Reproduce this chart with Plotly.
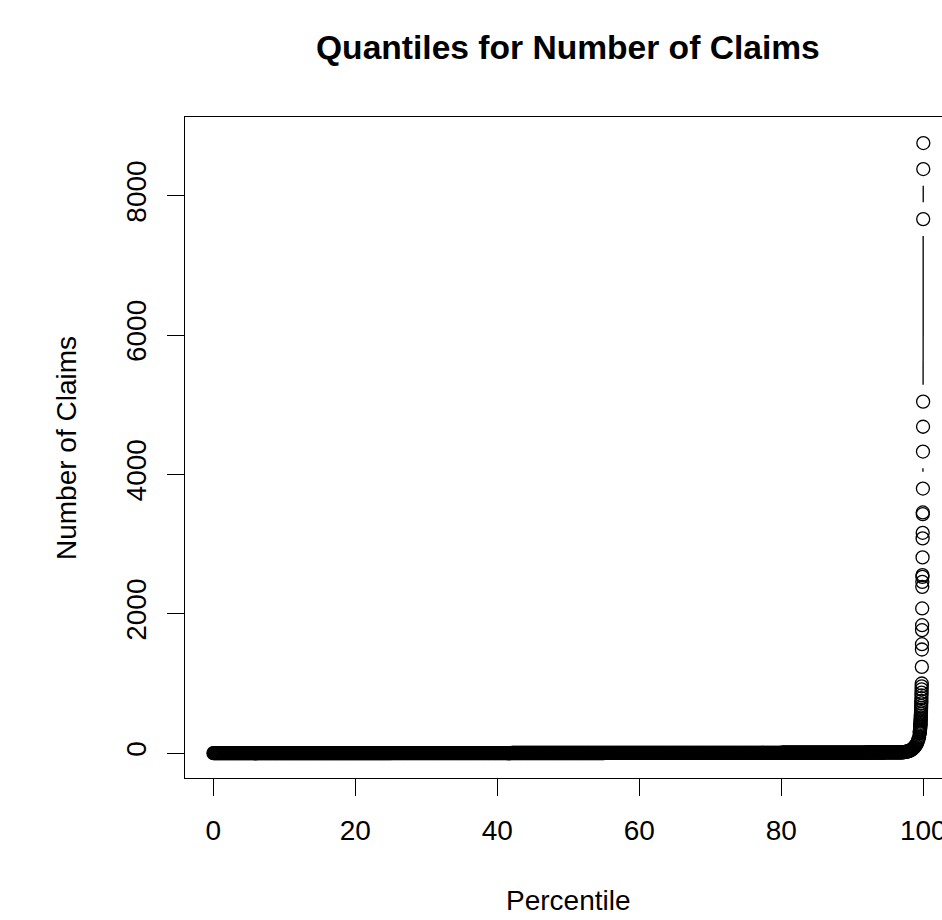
import numpy as np
import plotly.graph_objects as go

# ---------------- data ----------------
# bulk of the distribution: percentile grid 0.0 .. 96.9 (step 0.1), values given as runs
bulk_run_end = [25.0, 42.0, 55.0, 65.0, 73.0, 80.0, 85.0, 89.0, 92.0, 94.5, 96.9]
bulk_run_value = [1, 2, 3, 4, 5, 6, 7, 8, 9, 10, 11]

# upper tail: percentiles 97.0 .. 99.4 (step 0.1)
mid_pct = [97.0, 97.1, 97.2, 97.3, 97.4, 97.5, 97.6, 97.7, 97.8, 97.9,
           98.0, 98.1, 98.2, 98.3, 98.4, 98.5, 98.6, 98.7, 98.8, 98.9,
           99.0, 99.1, 99.2, 99.3, 99.4]
mid_val = [12, 13, 14, 15, 17, 19, 21, 23, 26, 29,
           33, 37, 42, 48, 55, 63, 72, 83, 95, 108,
           122, 140, 165, 195, 230]

# extreme tail: percentiles 99.50 .. 100.00 (step 0.01)
tail_pct = [99.50, 99.51, 99.52, 99.53, 99.54, 99.55, 99.56, 99.57, 99.58, 99.59,
            99.60, 99.61, 99.62, 99.63, 99.64, 99.65, 99.66, 99.67, 99.68, 99.69,
            99.70, 99.71, 99.72, 99.73, 99.74, 99.75, 99.76, 99.77, 99.78, 99.79,
            99.80, 99.81, 99.82, 99.83, 99.84, 99.85, 99.86, 99.87, 99.88, 99.89,
            99.90, 99.91, 99.92, 99.93, 99.94, 99.95, 99.96, 99.97, 99.98, 99.99,
            100.00]
tail_val = [287, 299, 312, 326, 340, 355, 370, 385, 400, 418,
            435, 455, 475, 495, 515, 540, 565, 590, 620, 650,
            680, 715, 750, 790, 830, 870, 915, 960, 1000, 1238,
            1488, 1564, 1765, 1837, 2077, 2387, 2459, 2531, 2555, 2810,
            3082, 3163, 3430, 3455, 3798, 4329, 4685, 5045, 7665, 8383,
            8756]

x_ticks = [0, 20, 40, 60, 80, 100]
y_ticks = [0, 2000, 4000, 6000, 8000]

# ---------------- assemble series ----------------
bulk_pct = []
bulk_val = []
start = 0.0
for end, v in zip(bulk_run_end, bulk_run_value):
    n = int(round((end - start) / 0.1)) + 1
    for k in range(n):
        bulk_pct.append(round(start + 0.1 * k, 1))
        bulk_val.append(v)
    start = round(end + 0.1, 1)

pct = bulk_pct + mid_pct + tail_pct
val = bulk_val + mid_val + tail_val

# ---------------- layout geometry ----------------
W, H = 942, 920
ML, MR, MT, MB = 185, 0, 117, 142
XR = [-4, 102.63]
YR = [-356, 9130]
PW = W - ML - MR
PH = H - MT - MB
FONT = "Liberation Sans, Arial, Helvetica, sans-serif"


def to_px(xv, yv):
    return (ML + (xv - XR[0]) / (XR[1] - XR[0]) * PW,
            MT + (YR[1] - yv) / (YR[1] - YR[0]) * PH)


def from_px(px, py):
    return (XR[0] + (px - ML) / PW * (XR[1] - XR[0]),
            YR[1] - (py - MT) / PH * (YR[1] - YR[0]))


# R type="b": line segments with a gap around each point
gap = 16.8
seg_x, seg_y = [], []
for i in range(1, len(pct)):
    x0, y0 = to_px(pct[i - 1], val[i - 1])
    x1, y1 = to_px(pct[i], val[i])
    dist = np.hypot(x1 - x0, y1 - y0)
    if dist > 0 and gap / dist < 0.5:
        f = gap / dist
        a = from_px(x0 + f * (x1 - x0), y0 + f * (y1 - y0))
        b = from_px(x1 + f * (x0 - x1), y1 + f * (y0 - y1))
        seg_x += [a[0], b[0], None]
        seg_y += [a[1], b[1], None]

fig = go.Figure()
fig.add_trace(go.Scatter(x=seg_x, y=seg_y, mode="lines",
                         line=dict(color="black", width=1.3),
                         hoverinfo="skip", showlegend=False))
fig.add_trace(go.Scatter(x=pct, y=val, mode="markers",
                         marker=dict(symbol="circle-open", size=13, color="black",
                                     line=dict(width=1.3, color="black")),
                         showlegend=False))

axis_common = dict(showgrid=False, zeroline=False, showline=True, linecolor="black",
                   linewidth=1.2, ticks="outside", ticklen=17, tickwidth=1.2,
                   tickcolor="black", automargin=False, ticklabelstandoff=10,
                   tickfont=dict(family=FONT, size=28, color="black"))

fig.update_layout(
    width=W, height=H,
    margin=dict(l=ML, r=MR, t=MT, b=MB, autoexpand=False),
    paper_bgcolor="white", plot_bgcolor="white",
    font=dict(family=FONT, color="black"),
    xaxis=dict(range=XR, tickvals=x_ticks, ticktext=[str(t) for t in x_ticks],
               mirror=True, ticklabeloverflow="allow", **axis_common),
    yaxis=dict(range=YR, tickvals=y_ticks, ticktext=[str(t) for t in y_ticks],
               tickangle=-90, **axis_common),
    annotations=[
        dict(text="<b>Quantiles for Number of Claims</b>", x=50, xref="x",
             y=(MT + PH - 47) / PH, yref="paper", showarrow=False,
             xanchor="center", yanchor="middle",
             font=dict(family=FONT, size=33.6, color="black")),
        dict(text="Percentile", x=50, xref="x",
             y=-(900 - MT - PH) / PH, yref="paper", showarrow=False,
             xanchor="center", yanchor="middle",
             font=dict(family=FONT, size=28, color="black")),
        dict(text="Number of Claims", x=(66 - ML) / PW, xref="paper",
             y=(MT + PH - 448) / PH, yref="paper", showarrow=False,
             textangle=-90, xanchor="center", yanchor="middle",
             font=dict(family=FONT, size=28, color="black")),
    ],
)

fig.write_html("out.html")
